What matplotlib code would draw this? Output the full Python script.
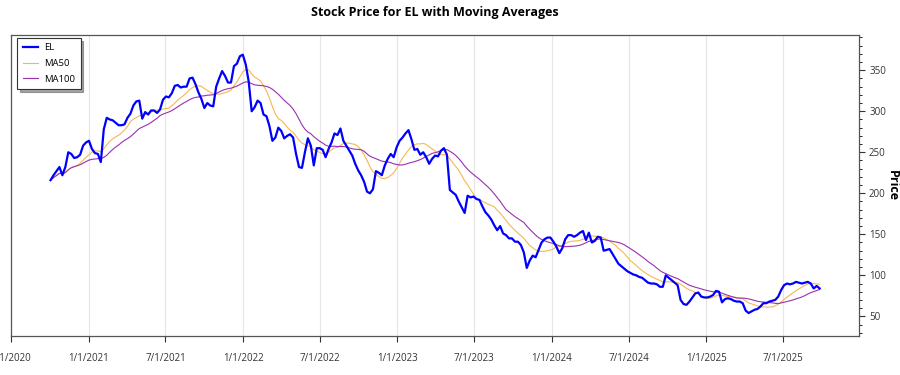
import numpy as np
import pandas as pd
import matplotlib
matplotlib.use("Agg")
import matplotlib.pyplot as plt
import matplotlib.dates as mdates
from matplotlib.ticker import MultipleLocator, FuncFormatter

# weekly closes (Fridays)
start_date = "2020-10-02"
prices = [
    216, 222, 227, 232, 222, 232, 250, 248, 243, 244,
    247, 258, 262, 264, 254, 249, 248, 238, 278, 292,
    290, 289, 286, 283, 283, 284, 292, 297, 307, 312,
    313, 291, 299, 296, 301, 301, 298, 302, 314, 318,
    317, 322, 331, 332, 329, 330, 330, 340, 341, 333,
    323, 315, 304, 310, 307, 306, 330, 340, 349, 343,
    335, 335, 355, 358, 367, 369, 357, 336, 300, 305,
    313, 310, 296, 294, 282, 264, 268, 280, 276, 267,
    270, 272, 268, 248, 232, 231, 250, 267, 258, 234,
    255, 255, 253, 244, 254, 262, 273, 271, 279, 264,
    258, 252, 246, 236, 228, 222, 214, 202, 200, 205,
    227, 225, 222, 234, 242, 248, 244, 256, 264, 268,
    273, 277, 266, 253, 254, 247, 250, 244, 236, 242,
    246, 245, 252, 255, 247, 204, 201, 198, 190, 183,
    176, 197, 195, 196, 193, 192, 184, 177, 173, 168,
    161, 155, 160, 151, 149, 145, 145, 141, 141, 137,
    128, 109, 118, 124, 122, 131, 140, 144, 146, 146,
    141, 135, 127, 133, 144, 149, 149, 147, 149, 152,
    154, 143, 152, 140, 142, 147, 146, 130, 131, 132,
    126, 120, 114, 111, 108, 105, 103, 101, 100, 98,
    97, 94, 91, 90, 90, 89, 86, 86, 100, 97,
    94, 91, 88, 70, 65, 64, 68, 73, 78, 79,
    74, 73, 73, 74, 76, 81, 80, 67, 71, 72,
    71, 69, 68, 68, 66, 57, 54, 56, 58, 59,
    62, 66, 66, 68, 69, 70, 74, 82, 88, 90,
    89, 90, 92, 91, 90, 91, 92, 90, 84, 87,
    84,
]
ticker = "EL"

dates = pd.date_range(start_date, periods=len(prices), freq="7D")
s = pd.Series(prices, index=dates, dtype=float)
ma50 = s.rolling(10, min_periods=1).mean()
ma100 = s.rolling(20, min_periods=1).mean()

plt.rcParams['font.family'] = ['Open Sans', 'DejaVu Sans']

fig = plt.figure(figsize=(9, 3.75), dpi=100)
ax = fig.add_axes([0.0125, 0.104, 0.9423, 0.8027])

ax.plot(s.index, s.values, color="#0000ff", lw=1.6, label=ticker, zorder=3)
ax.plot(ma50.index, ma50.values, color="#f5b84f", lw=0.8, label="MA50", zorder=2)
ax.plot(ma100.index, ma100.values, color="#9b30b0", lw=0.8, label="MA100", zorder=2)

ax.set_xlim(pd.Timestamp("2020-07-01"), pd.Timestamp("2025-12-29"))
ax.set_ylim(26, 393)

ax.xaxis.set_major_locator(mdates.MonthLocator(bymonth=[1, 7], bymonthday=1))
ax.xaxis.set_major_formatter(FuncFormatter(
    lambda v, pos: (lambda d: f"{d.month}/{d.day}/{d.year}")(mdates.num2date(v))))
ax.grid(axis="x", color="#e6e6e6", lw=0.8)
ax.set_axisbelow(True)

ax.yaxis.tick_right()
ax.yaxis.set_label_position("right")
ax.yaxis.set_major_locator(MultipleLocator(50))
ax.yaxis.set_minor_locator(MultipleLocator(10))
ax.tick_params(axis="both", labelsize=7, colors="#333333", length=4)
ax.tick_params(axis="x", pad=8)
ax.tick_params(axis="y", pad=3)
ax.tick_params(axis="y", which="minor", length=2)
ax.set_ylabel("Price", fontsize=9, fontweight="bold", rotation=270, labelpad=9)

for sp in ax.spines.values():
    sp.set_color("#555555")
    sp.set_linewidth(0.9)

ax.set_title(f"Stock Price for {ticker} with Moving Averages",
             fontsize=9, fontweight="bold", pad=14)

leg = ax.legend(loc="upper left", fontsize=6.8, fancybox=False, shadow=True,
                edgecolor="#333333", handlelength=1.6, handletextpad=0.6,
                borderpad=0.6, labelspacing=0.7, borderaxespad=0.3,
                bbox_to_anchor=(0.004, 1.0))
leg.get_frame().set_linewidth(0.8)

fig.savefig("out.png", dpi=100)
